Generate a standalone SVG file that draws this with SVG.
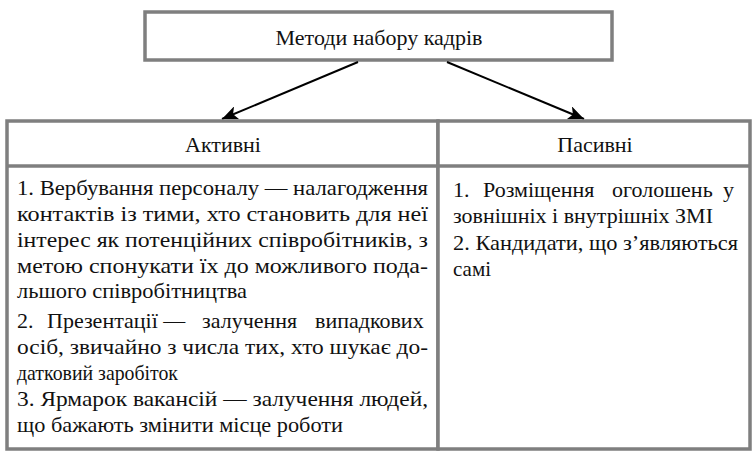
<svg xmlns="http://www.w3.org/2000/svg" width="754" height="452" viewBox="0 0 754 452">
<style>
.box{fill:#fff;stroke:#7f7f7f;stroke-width:3.5}
.ln{stroke:#7f7f7f;stroke-width:3.5;fill:none}
.c{text-anchor:middle}
.conn{stroke:#000;stroke-width:2;fill:none}
</style>
<defs>
<marker id="ah" markerUnits="userSpaceOnUse" markerWidth="18" markerHeight="14" refX="16" refY="7" orient="auto">
<path d="M0,0 L16,7 L0,14 L4,7 Z" fill="#000"/>
</marker>
</defs>
<rect width="754" height="452" fill="#fff"/>
<g font-family="Liberation Serif, Times New Roman, DejaVu Serif, serif" font-size="22" fill="#111">
<g id="root">
<rect class="box" x="145" y="12" width="467" height="48"/>
<text class="c" x="379" y="45">Методи набору кадрів</text>
</g>
<g id="connectors">
<line class="conn" x1="358" y1="62" x2="222" y2="119" marker-end="url(#ah)"/>
<line class="conn" x1="447" y1="62" x2="584" y2="119" marker-end="url(#ah)"/>
</g>
<g id="active">
<rect class="box" x="7" y="121" width="431" height="328"/>
<line class="ln" x1="7" y1="166" x2="438" y2="166"/>
<text class="c" x="223" y="152">Активні</text>
<text x="17" y="195" textLength="411" lengthAdjust="spacingAndGlyphs">1. Вербування персоналу — налагодження</text>
<text x="17" y="221" textLength="411" lengthAdjust="spacingAndGlyphs">контактів із тими, хто становить для неї</text>
<text x="17" y="247" textLength="411" lengthAdjust="spacingAndGlyphs">інтерес як потенційних співробітників, з</text>
<text x="17" y="273" textLength="411" lengthAdjust="spacingAndGlyphs">метою спонукати їх до можливого пода-</text>
<text x="17" y="298" textLength="230" lengthAdjust="spacingAndGlyphs">льшого співробітництва</text>
<text y="328"><tspan x="17">2.</tspan><tspan x="47">Презентації —</tspan><tspan x="202">залучення</tspan><tspan x="315">випадкових</tspan></text>
<text x="17" y="354" textLength="411" lengthAdjust="spacingAndGlyphs">осіб, звичайно з числа тих, хто шукає до-</text>
<text x="17" y="380" textLength="161" lengthAdjust="spacingAndGlyphs">датковий заробіток</text>
<text x="17" y="406" textLength="411" lengthAdjust="spacingAndGlyphs">3. Ярмарок вакансій — залучення людей,</text>
<text x="17" y="432" textLength="326" lengthAdjust="spacingAndGlyphs">що бажають змінити місце роботи</text>
</g>
<g id="passive">
<rect class="box" x="438" y="121" width="312" height="328"/>
<line class="ln" x1="438" y1="166" x2="750" y2="166"/>
<text class="c" x="595" y="152">Пасивні</text>
<text y="197"><tspan x="453">1.</tspan><tspan x="483">Розміщення</tspan><tspan x="612">оголошень</tspan><tspan x="723">у</tspan></text>
<text x="453" y="223" textLength="260" lengthAdjust="spacingAndGlyphs">зовнішніх і внутрішніх ЗМІ</text>
<text x="453" y="250" textLength="285" lengthAdjust="spacingAndGlyphs">2. Кандидати, що з’являються</text>
<text x="453" y="276" textLength="38" lengthAdjust="spacingAndGlyphs">самі</text>
</g>
</g>
</svg>
